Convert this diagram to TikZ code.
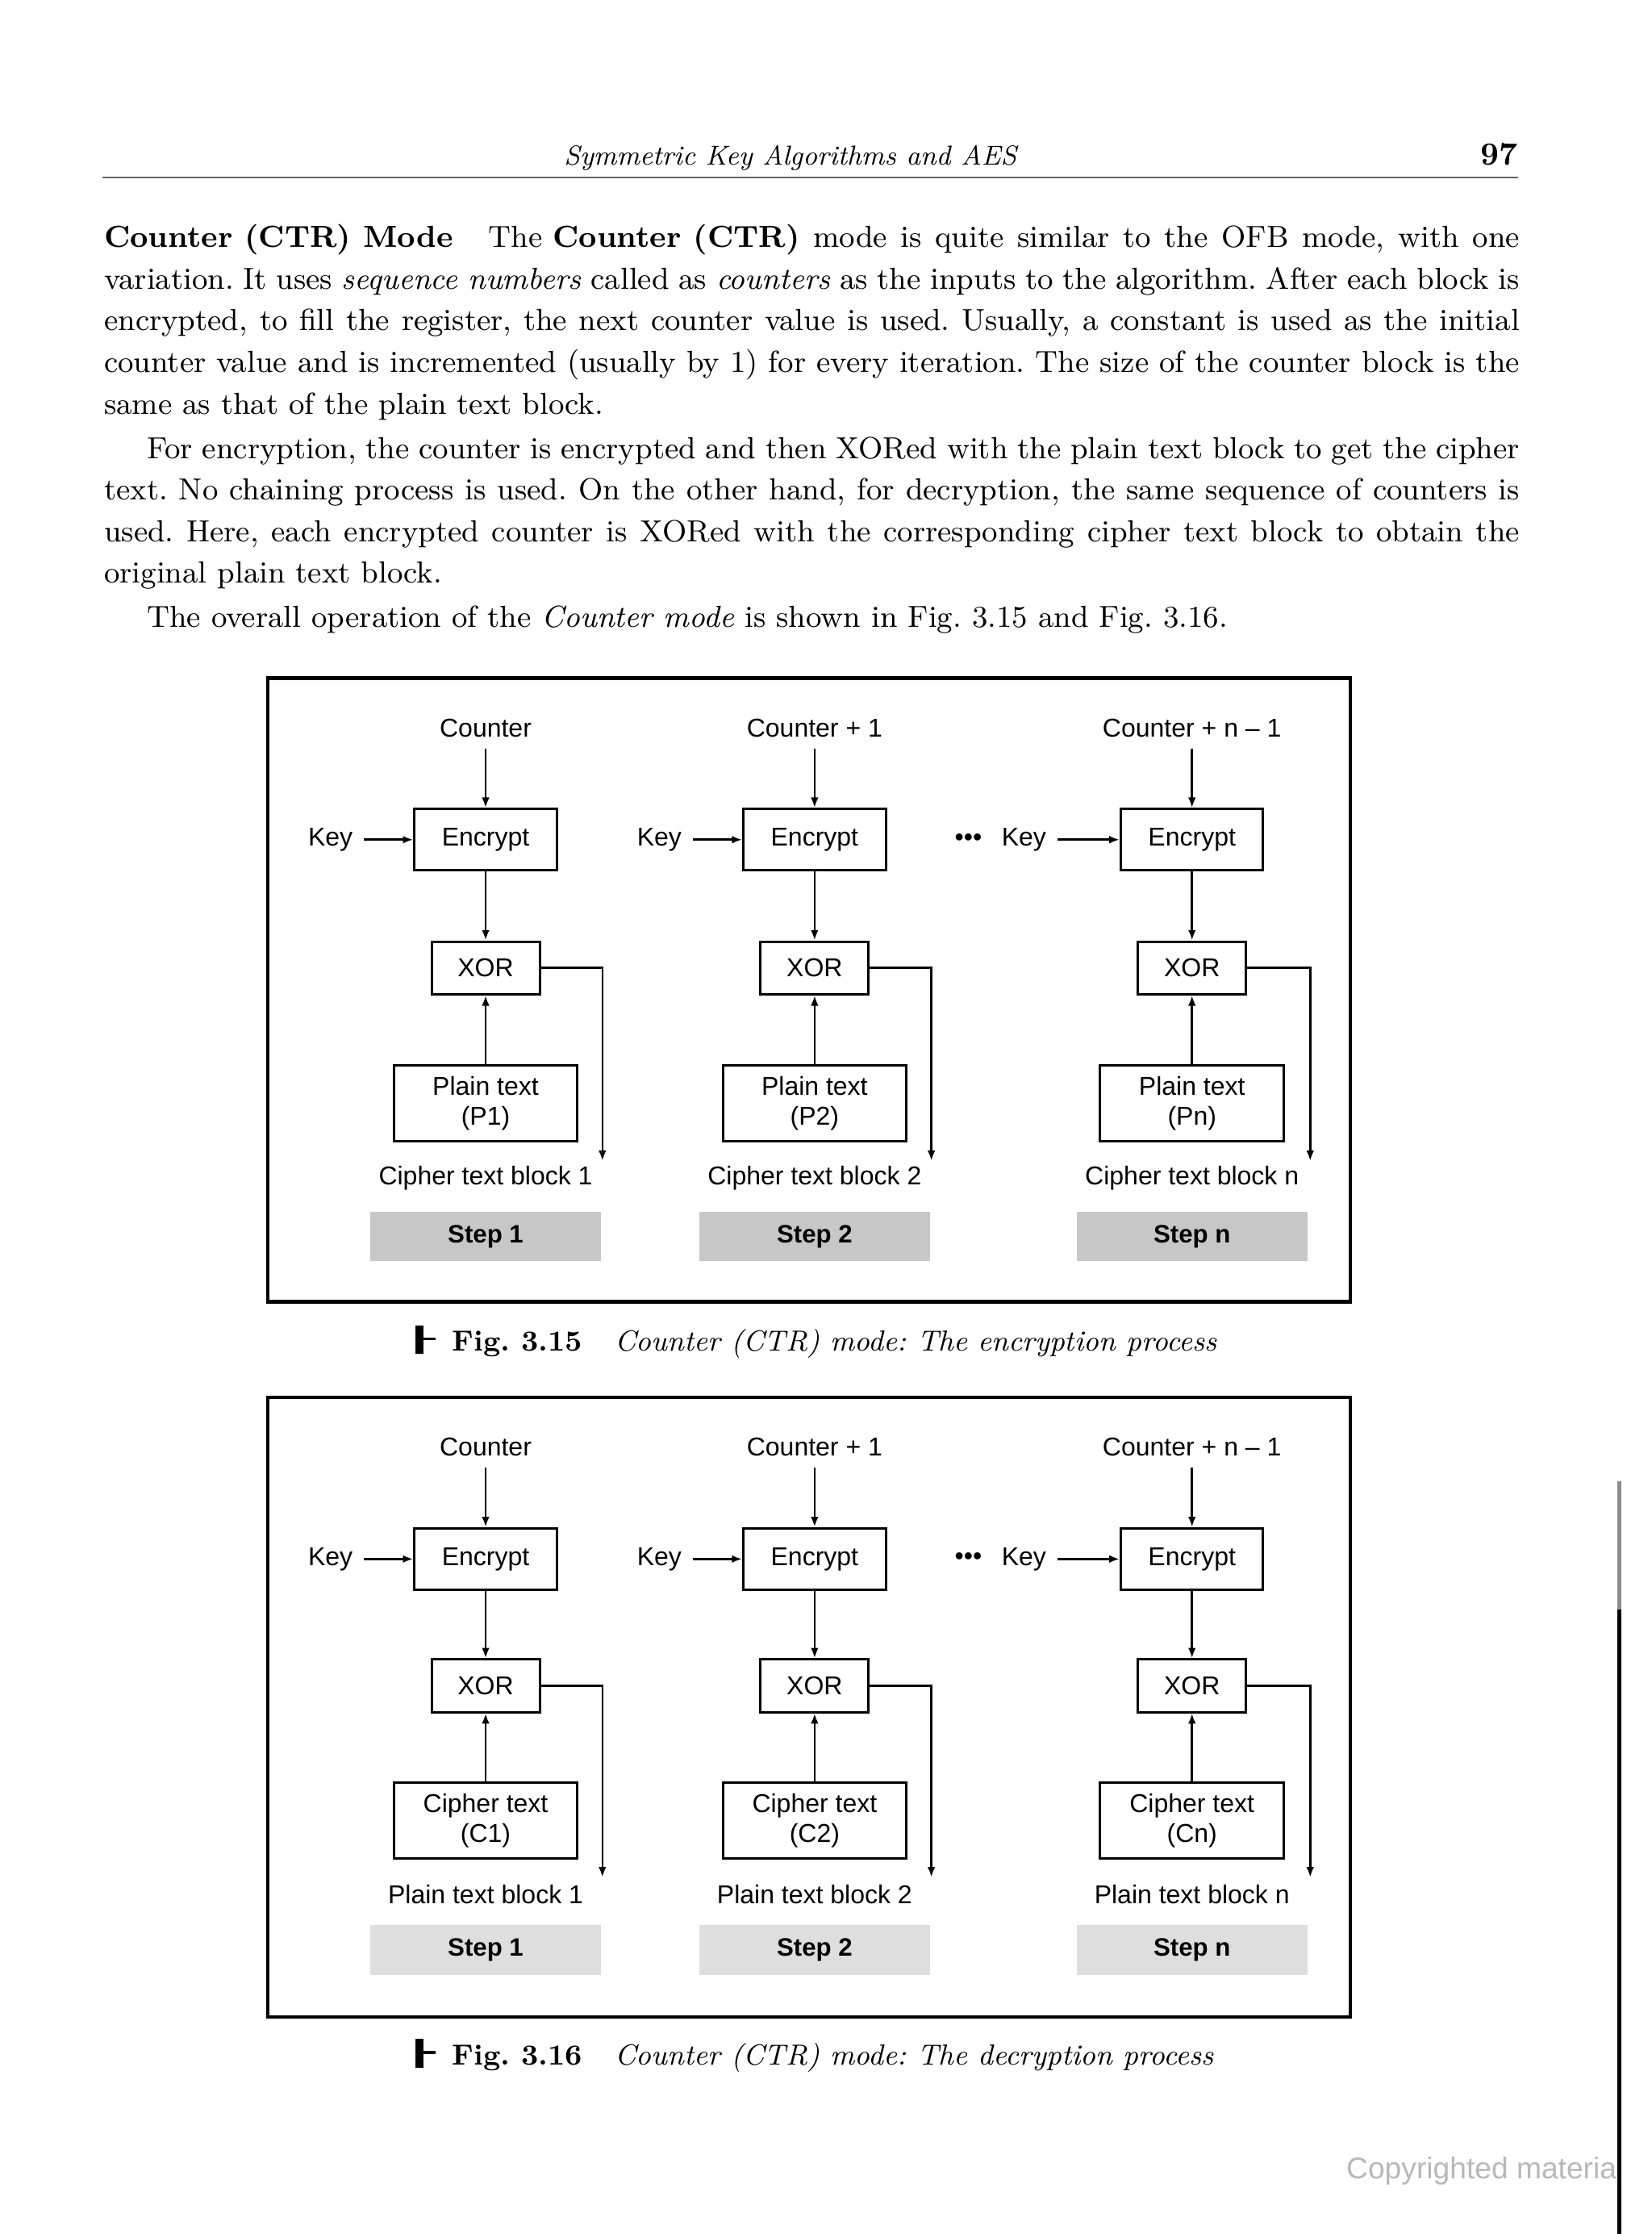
\documentclass[tikz,border=0pt]{standalone}
\usepackage{fontspec}
\setsansfont{Liberation Sans}
\usetikzlibrary{arrows.meta}
\newlength\bodyw \setlength\bodyw{438.7pt}
\newlength\indw  \setlength\indw{425.4pt}
\frenchspacing

\begin{document}
\begin{tikzpicture}[
  x=0.44138pt, y=-0.44138pt,
  >={Latex[length=3.2pt,width=2.4pt]},
  every node/.style={font=\sffamily\fontsize{8}{9.3}\selectfont, text=black},
  encbox/.style={draw, line width=0.75pt, minimum width=44.1pt,
                 minimum height=19pt, inner sep=0pt},
  xorbox/.style={draw, line width=0.75pt, minimum width=33.5pt,
                 minimum height=16.3pt, inner sep=0pt},
  textbox/.style={draw, line width=0.75pt, minimum width=56.9pt,
                  minimum height=23.4pt, inner sep=0pt, align=center},
  stepbox/.style={fill=#1, minimum width=71.5pt, minimum height=15.4pt,
                  inner sep=0pt, font=\sffamily\bfseries\fontsize{7.8}{9}\selectfont},
  framebox/.style={draw, line width=1.1pt},
  flow/.style={->, line width=0.65pt},
  headtext/.style={font=\rmfamily\itshape\fontsize{8.5}{10}\selectfont,
                   anchor=base, inner sep=0pt},
  pagenum/.style={font=\rmfamily\bfseries\fontsize{10}{12}\selectfont,
                  anchor=base east, inner sep=0pt},
  bodytext/.style={font=\rmfamily\fontsize{9.45}{12.89}\selectfont,
                   anchor=north west, inner sep=0pt, align=left},
  captext/.style={font=\rmfamily\fontsize{9}{11}\selectfont,
                  anchor=base west, inner sep=0pt},
]

% ── Page ──
\fill[white] (0,0) rectangle (1160,1568.4);
\useasboundingbox (0,0) rectangle (1160,1568.4);

% ── Running head ──
\node[headtext] (head) at (555,116.1) {Symmetric Key Algorithms and AES};
\node[pagenum] (pageno) at (1066,116.1) {97};
\draw[black!60, line width=0.6pt] (72,124.6) -- (1066,124.6);

% ── Body text ──
\node[bodytext] (body) at (72.7,152.9) {%
\strut\makebox[\bodyw][s]{\mbox{\textbf{Counter (CTR) Mode}\hspace{11pt}The \textbf{Counter (CTR)}} mode is quite similar to the OFB mode, with one}\\
\makebox[\bodyw][s]{variation. It uses \textit{sequence numbers} called as \textit{counters} as the inputs to the algorithm. After each block is}\\
\makebox[\bodyw][s]{encrypted, to fill the register, the next counter value is used. Usually, a constant is used as the initial}\\
\makebox[\bodyw][s]{counter value and is incremented (usually by 1) for every iteration. The size of the counter block is the}\\
same as that of the plain text block.\\[0.84pt]
\hspace*{13.3pt}\makebox[\indw][s]{For encryption, the counter is encrypted and then XORed with the plain text block to get the cipher}\\
\makebox[\bodyw][s]{text. No chaining process is used. On the other hand, for decryption, the same sequence of counters is}\\
\makebox[\bodyw][s]{used. Here, each encrypted counter is XORed with the corresponding cipher text block to obtain the}\\
original plain text block.\\[0.84pt]
\hspace*{13.3pt}The overall operation of the \textit{Counter mode} is shown in Fig.~3.15 and Fig.~3.16.};

% ── Fig. 3.15: encryption ──
\draw[framebox] (188,476) rectangle (948,914);

% Step 1
\node (ctrA1) at (341,511) {Counter};
\node[encbox] (encA1) at (341,589.5) {Encrypt};
\node (keyA1) at (232,589.5) {Key};
\node[xorbox] (xorA1) at (341,679.5) {XOR};
\node[textbox] (inA1) at (341,774.5) {Plain text\\(P1)};
\coordinate (outA1) at (423,815);
\node (resA1) at (341,827) {Cipher text block 1};
\node[stepbox=black!22] (stepA1) at (341,868) {Step 1};

% Step 2
\node (ctrA2) at (572,511) {Counter + 1};
\node[encbox] (encA2) at (572,589.5) {Encrypt};
\node (keyA2) at (463,589.5) {Key};
\node[xorbox] (xorA2) at (572,679.5) {XOR};
\node[textbox] (inA2) at (572,774.5) {Plain text\\(P2)};
\coordinate (outA2) at (654,815);
\node (resA2) at (572,827) {Cipher text block 2};
\node[stepbox=black!22] (stepA2) at (572,868) {Step 2};

% Step n
\node (ctrA3) at (837,511) {Counter + n -- 1};
\node[encbox] (encA3) at (837,589.5) {Encrypt};
\node (dotsA) at (680,589.5) {\textbullet\textbullet\textbullet};
\node (keyA3) at (719,589.5) {Key};
\node[xorbox] (xorA3) at (837,679.5) {XOR};
\node[textbox] (inA3) at (837,774.5) {Plain text\\(Pn)};
\coordinate (outA3) at (920,815);
\node (resA3) at (837,827) {Cipher text block n};
\node[stepbox=black!22] (stepA3) at (837,868) {Step n};

\foreach \i in {1,2,3} {
  \draw[flow] (ctrA\i) -- (encA\i);
  \draw[flow] (keyA\i.east) -- (encA\i.west);
  \draw[flow] (encA\i) -- (xorA\i);
  \draw[flow] (inA\i) -- (xorA\i);
  \draw[flow] (xorA\i.east) -| (outA\i);
}

\node[captext] (capA) at (317,948.7)
  {\textbf{Fig.~3.15}\hspace{10pt}\textit{Counter (CTR) mode: The encryption process}};
\fill (291.7,930.5) rectangle (297.4,950.5);
\fill (297.4,939) rectangle (305.8,941);

% ── Fig. 3.16: decryption ──
\draw[framebox] (188,981) rectangle (948,1416);

% Step 1
\node (ctrB1) at (341,1016) {Counter};
\node[encbox] (encB1) at (341,1094.5) {Encrypt};
\node (keyB1) at (232,1094.5) {Key};
\node[xorbox] (xorB1) at (341,1183.5) {XOR};
\node[textbox] (inB1) at (341,1278) {Cipher text\\(C1)};
\coordinate (outB1) at (423,1318);
\node (resB1) at (341,1330) {Plain text block 1};
\node[stepbox=black!13] (stepB1) at (341,1369) {Step 1};

% Step 2
\node (ctrB2) at (572,1016) {Counter + 1};
\node[encbox] (encB2) at (572,1094.5) {Encrypt};
\node (keyB2) at (463,1094.5) {Key};
\node[xorbox] (xorB2) at (572,1183.5) {XOR};
\node[textbox] (inB2) at (572,1278) {Cipher text\\(C2)};
\coordinate (outB2) at (654,1318);
\node (resB2) at (572,1330) {Plain text block 2};
\node[stepbox=black!13] (stepB2) at (572,1369) {Step 2};

% Step n
\node (ctrB3) at (837,1016) {Counter + n -- 1};
\node[encbox] (encB3) at (837,1094.5) {Encrypt};
\node (dotsB) at (680,1094.5) {\textbullet\textbullet\textbullet};
\node (keyB3) at (719,1094.5) {Key};
\node[xorbox] (xorB3) at (837,1183.5) {XOR};
\node[textbox] (inB3) at (837,1278) {Cipher text\\(Cn)};
\coordinate (outB3) at (920,1318);
\node (resB3) at (837,1330) {Plain text block n};
\node[stepbox=black!13] (stepB3) at (837,1369) {Step n};

\foreach \i in {1,2,3} {
  \draw[flow] (ctrB\i) -- (encB\i);
  \draw[flow] (keyB\i.east) -- (encB\i.west);
  \draw[flow] (encB\i) -- (xorB\i);
  \draw[flow] (inB\i) -- (xorB\i);
  \draw[flow] (xorB\i.east) -| (outB\i);
}

\node[captext] (capB) at (317,1449.7)
  {\textbf{Fig.~3.16}\hspace{10pt}\textit{Counter (CTR) mode: The decryption process}};
\fill (291.7,1431.5) rectangle (297.4,1451.5);
\fill (297.4,1440) rectangle (305.8,1442);

% ── Scan margin ──
\node[font=\sffamily\fontsize{9.3}{11}\selectfont, text=black!28,
      anchor=base west, inner sep=0pt] (mark) at (945,1529.5) {Copyrighted materia};
\draw[black!45, line width=1.3pt] (1137,1040) -- (1137,1130);
\draw[line width=1.3pt] (1137,1130) -- (1137,1568.4);

\end{tikzpicture}
\end{document}
